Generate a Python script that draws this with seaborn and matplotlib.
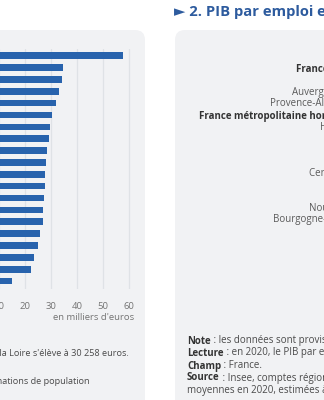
import matplotlib
matplotlib.use("Agg")
import matplotlib.pyplot as plt
import seaborn as sns
import pandas as pd
from matplotlib.patches import FancyBboxPatch

# ---------------- data ----------------
# Chart 1 : PIB par habitant en 2020 (milliers d'euros)
regions_hab = ["Île-de-France", "France hors Mayotte", "Auvergne-Rhône-Alpes",
               "Provence-Alpes-Côte d'Azur", "France métropolitaine hors Île-de-France",
               "Pays de la Loire", "Grand Est", "Bretagne", "Centre-Val de Loire",
               "Normandie", "Nouvelle-Aquitaine", "Occitanie", "Bourgogne-Franche-Comté",
               "Hauts-de-France", "Corse", "Martinique", "Guadeloupe", "La Réunion",
               "Guyane", "Mayotte"]
pib_hab = [57.8, 34.7, 34.2, 33.2, 31.8, 30.4, 29.7, 29.3, 28.6, 28.2,
           27.8, 27.6, 27.3, 27.0, 27.0, 25.9, 25.0, 23.5, 22.3, 15.1]
ticks_hab = [10, 20, 30, 40, 50, 60]

# Chart 2 : PIB par emploi en 2020 (bars lie outside the visible crop)
regions_emp = ["Île-de-France", "France hors Mayotte", "Corse", "Auvergne-Rhône-Alpes",
               "Provence-Alpes-Côte d'Azur", "France métropolitaine hors Île-de-France",
               "Hauts-de-France", "Grand Est", "Normandie", "Occitanie",
               "Centre-Val de Loire", "Guadeloupe", "Martinique", "Nouvelle-Aquitaine",
               "Bourgogne-Franche-Comté", "La Réunion", "Bretagne", "Guyane", "Mayotte"]
pib_emp = [116, 85, 83, 83, 82, 78, 77, 76, 76, 76, 75, 75, 74, 74, 73, 73, 71, 70, 69]
bold_rows = ["France hors Mayotte", "France métropolitaine hors Île-de-France"]

# ---------------- style ----------------
sns.set_theme(style="white")
plt.rcParams["font.family"] = ["Open Sans", "DejaVu Sans"]

BAR = "#2863ad"
BOX = "#f1f2f4"
GRID = "#dfe2e6"
TXT = "#4a4a4a"
TITLE = "#2d5b9e"

W, H = 324, 400
fig = plt.figure(figsize=(W / 100, H / 100), dpi=100)
fig.patch.set_facecolor("white")

# background axes in pixel coordinates
bg = fig.add_axes([0, 0, 1, 1], zorder=0)
bg.set_xlim(0, W)
bg.set_ylim(H, 0)
bg.axis("off")
bg.add_patch(FancyBboxPatch((-40, 30), 185, 420, boxstyle="round,pad=0,rounding_size=10",
                            facecolor=BOX, edgecolor="none"))
bg.add_patch(FancyBboxPatch((175, 30), 200, 420, boxstyle="round,pad=0,rounding_size=10",
                            facecolor=BOX, edgecolor="none"))

def px_axes(left, top, width, height):
    return fig.add_axes([left / W, 1 - (top + height) / H, width / W, height / H], zorder=2)

# ---------------- chart 1 ----------------
df1 = pd.DataFrame({"region": regions_hab, "valeur": pib_hab})
step1 = 11.86
top1 = 55.7 - 0.6 * step1
ax1 = px_axes(-27, top1, 162.5, 20.3 * step1)
sns.barplot(data=df1, x="valeur", y="region", orient="h", color=BAR, width=0.56,
            saturation=1, linewidth=0, ax=ax1, zorder=3)
ax1.set_xlim(0, 62.5)
ax1.set_ylim(19.7, -0.6)
ax1.set_xticks(ticks_hab)
ax1.xaxis.grid(True, color=GRID, linewidth=0.9, zorder=0)
ax1.set_axisbelow(True)
ax1.patch.set_visible(False)
for s in ax1.spines.values():
    s.set_visible(False)
ax1.tick_params(axis="x", length=0, pad=9, labelsize=6.8, labelcolor="#747474")
ax1.tick_params(axis="y", length=0, labelsize=7, labelcolor=TXT)
ax1.set_xlabel("")
ax1.set_ylabel("")
bg.text(134.5, 317, "en milliers d'euros", ha="right", va="center", fontsize=6.8,
        color="#747474")

# ---------------- chart 2 ----------------
df2 = pd.DataFrame({"region": regions_emp, "valeur": pib_emp})
step2 = 11.6
top2 = 56 - 0.6 * step2
ax2 = px_axes(398, top2, 200, 19.3 * step2)
sns.barplot(data=df2, x="valeur", y="region", orient="h", color=BAR, width=0.56,
            saturation=1, linewidth=0, ax=ax2, zorder=3)
ax2.set_ylim(18.7, -0.6)
ax2.patch.set_visible(False)
for s in ax2.spines.values():
    s.set_visible(False)
ax2.tick_params(axis="y", length=0, pad=1.5, labelsize=7, labelcolor="#5a5a5a")
ax2.set_xlabel("")
ax2.set_ylabel("")
for lab in ax2.get_yticklabels():
    if lab.get_text() in bold_rows:
        lab.set_fontweight("bold")
        lab.set_color("#333333")

# heading of chart 2
bg.text(174, 12, "► 2. PIB par emploi en 2020", ha="left", va="center", fontsize=10.6,
        fontweight="bold", color=TITLE)

# ---------------- notes ----------------
renderer = fig.canvas.get_renderer()
NOTE = 7

def mixed(x, y, bold, rest, size=NOTE):
    t = bg.text(x, y, bold, ha="left", va="center", fontsize=size, fontweight="bold",
                color="#333333")
    bb = t.get_window_extent(renderer=renderer)
    bg.text(bb.x1, y, rest, ha="left", va="center", fontsize=size, color=TXT)

mixed(187, 341, "Note", " : les données sont provisoires pour 2020.")
mixed(187, 353, "Lecture", " : en 2020, le PIB par emploi en Pays de la Loire s'élève à 76 000 euros.")
mixed(187, 366, "Champ", " : France.")
mixed(187, 378, "Source", " : Insee, comptes régionaux base 2014, estimations d'emploi")
bg.text(187, 390, "moyennes en 2020, estimées à partir des estimations d'emploi.",
        ha="left", va="center", fontsize=NOTE, color=TXT)

# left panel notes (visible tails only)
bg.text(129, 353, "Lecture : en 2020, le PIB par habitant en Pays de la Loire s'élève à 30 258 euros.",
        ha="right", va="center", fontsize=6.6, color=TXT)
bg.text(90, 381, "moyennes en 2020, estimations de population",
        ha="right", va="center", fontsize=6.6, color=TXT)

fig.savefig("out.png", dpi=100, facecolor="white")
